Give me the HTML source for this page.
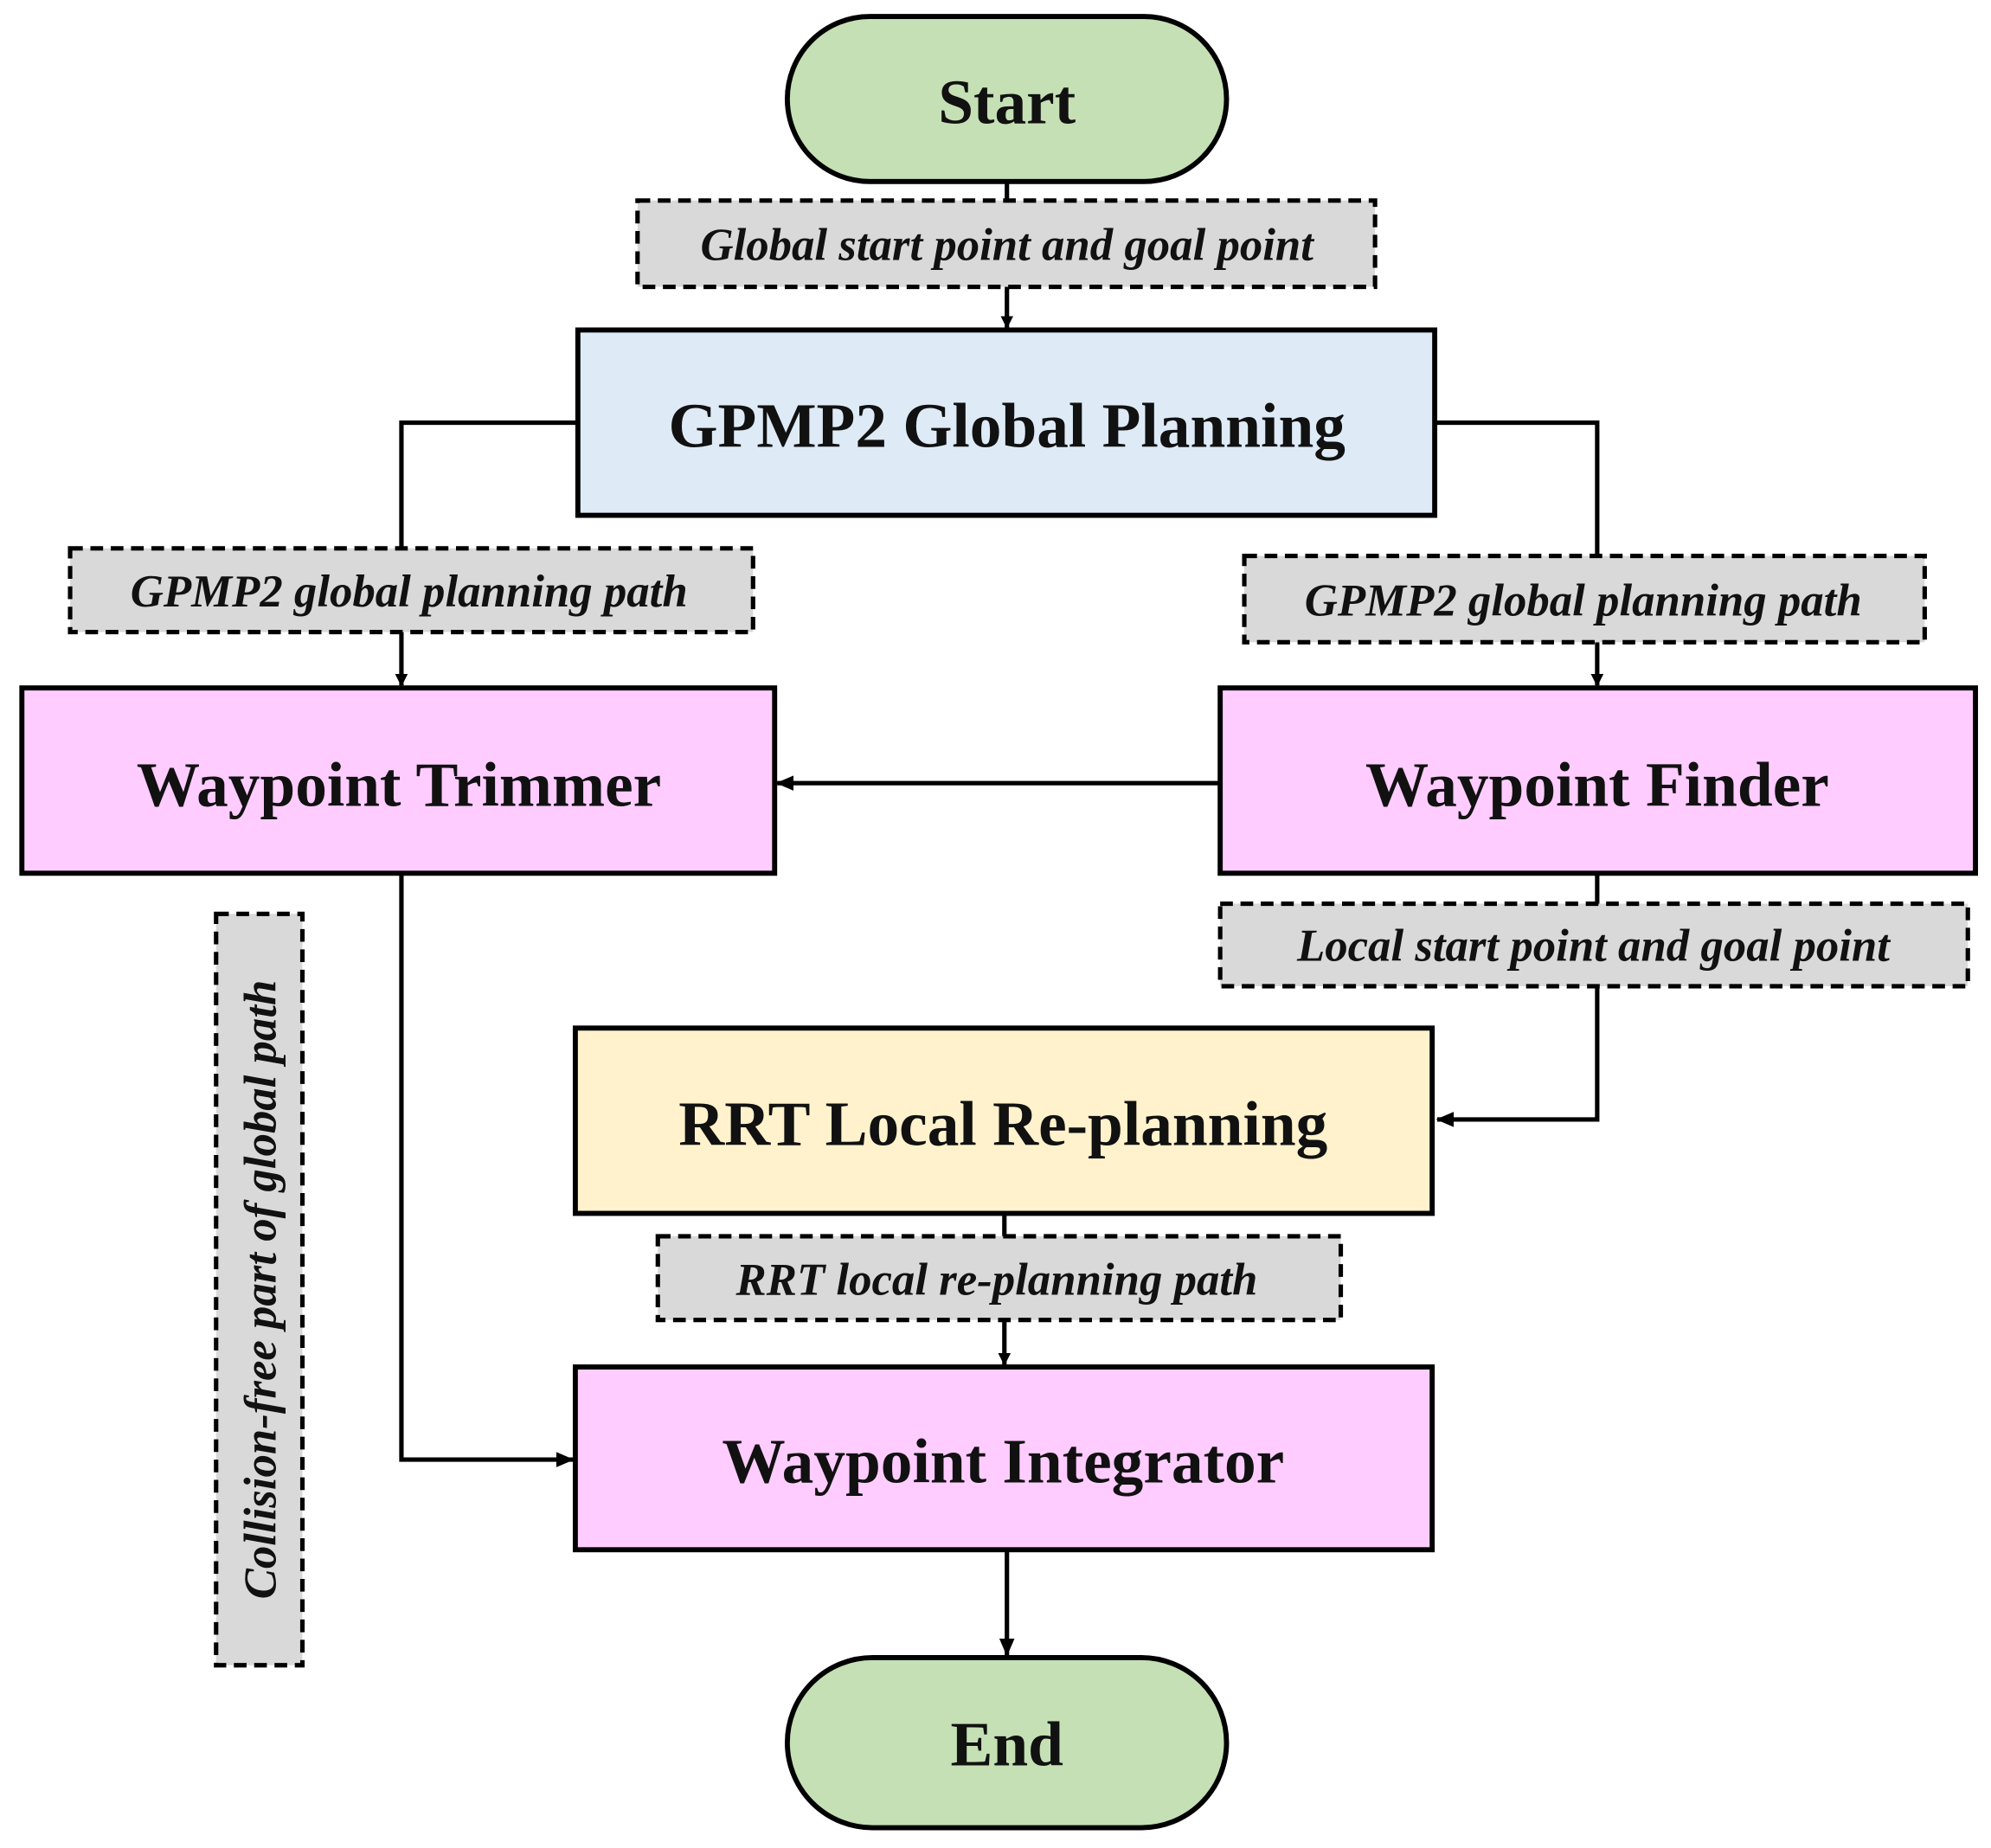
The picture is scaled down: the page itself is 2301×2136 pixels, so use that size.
<!DOCTYPE html>
<html><head><meta charset="utf-8"><style>
html,body{margin:0;padding:0;background:#fff;}
svg{display:block;}
text{font-family:"Liberation Serif",serif;font-weight:bold;fill:#111;}
.it{font-style:italic;font-size:36px;}
.big{font-size:50px;}
</style></head><body>
<svg width="2301" height="2136" viewBox="0 0 1568 1456" xmlns="http://www.w3.org/2000/svg">
<defs><marker id="a" markerWidth="10" markerHeight="10" refX="9" refY="5" orient="auto" markerUnits="userSpaceOnUse" viewBox="0 0 10 10"><path d="M0,0 L10,5 L0,10 z" fill="#000"/></marker>
<marker id="b" markerWidth="14" markerHeight="12" refX="13" refY="6" orient="auto" markerUnits="userSpaceOnUse" viewBox="0 0 14 12"><path d="M0,0 L14,6 L0,12 z" fill="#000"/></marker></defs>
<g stroke="#000" stroke-width="3.5" fill="none">
<line x1="793" y1="143" x2="793" y2="158"/>
<line x1="793" y1="226" x2="793" y2="258" marker-end="url(#a)"/>
<polyline points="455,333 316,333 316,432"/>
<line x1="316" y1="498" x2="316" y2="540" marker-end="url(#a)"/>
<polyline points="1130,333 1258,333 1258,438"/>
<line x1="1258" y1="506" x2="1258" y2="540" marker-end="url(#a)"/>
<line x1="961" y1="617" x2="612" y2="617" marker-end="url(#b)"/>
<line x1="1258" y1="688" x2="1258" y2="712"/>
<polyline points="1258,777 1258,882 1132,882" marker-end="url(#b)"/>
<line x1="791" y1="956" x2="791" y2="974"/>
<line x1="791" y1="1040" x2="791" y2="1075" marker-end="url(#a)"/>
<polyline points="316,688 316,1150 451,1150" marker-end="url(#b)"/>
<line x1="793" y1="1221" x2="793" y2="1304" marker-end="url(#b)"/>
</g>
<g stroke="#000" stroke-width="4">
<rect x="620" y="13" width="346" height="130" rx="65" fill="#c5e0b4"/>
<rect x="620" y="1306" width="346" height="134" rx="67" fill="#c5e0b4"/>
<rect x="455" y="260" width="675" height="146" fill="#deebf7"/>
<rect x="17" y="542" width="593" height="146" fill="#ffccff"/>
<rect x="961" y="542" width="595" height="146" fill="#ffccff"/>
<rect x="453" y="810" width="675" height="146" fill="#fff2cc"/>
<rect x="453" y="1077" width="675" height="144" fill="#ffccff"/>
</g>
<g stroke="#000" stroke-width="3.5" stroke-dasharray="10,6" fill="#d9d9d9">
<rect x="502" y="158" width="581" height="68"/>
<rect x="55" y="432" width="538" height="66"/>
<rect x="980" y="438" width="536" height="68"/>
<rect x="961" y="712" width="589" height="65"/>
<rect x="518" y="974" width="538" height="66"/>
<rect x="170" y="720" width="68" height="592"/>
</g>
<g text-anchor="middle">
<text x="793" y="97" class="big">Start</text>
<text x="793" y="1391" class="big">End</text>
<text x="793" y="352" class="big">GPMP2 Global Planning</text>
<text x="314" y="635" class="big">Waypoint Trimmer</text>
<text x="1258" y="635" class="big">Waypoint Finder</text>
<text x="790" y="902" class="big">RRT Local Re-planning</text>
<text x="790" y="1168" class="big">Waypoint Integrator</text>
<text x="793" y="205" class="it">Global start point and goal point</text>
<text x="322" y="478" class="it">GPMP2 global planning path</text>
<text x="1247" y="485" class="it">GPMP2 global planning path</text>
<text x="1255" y="757" class="it">Local start point and goal point</text>
<text x="785" y="1020" class="it">RRT local re-planning path</text>
<text transform="translate(217,1016) rotate(-90)" class="it">Collision-free part of global path</text>
</g>
</svg>
</body></html>
